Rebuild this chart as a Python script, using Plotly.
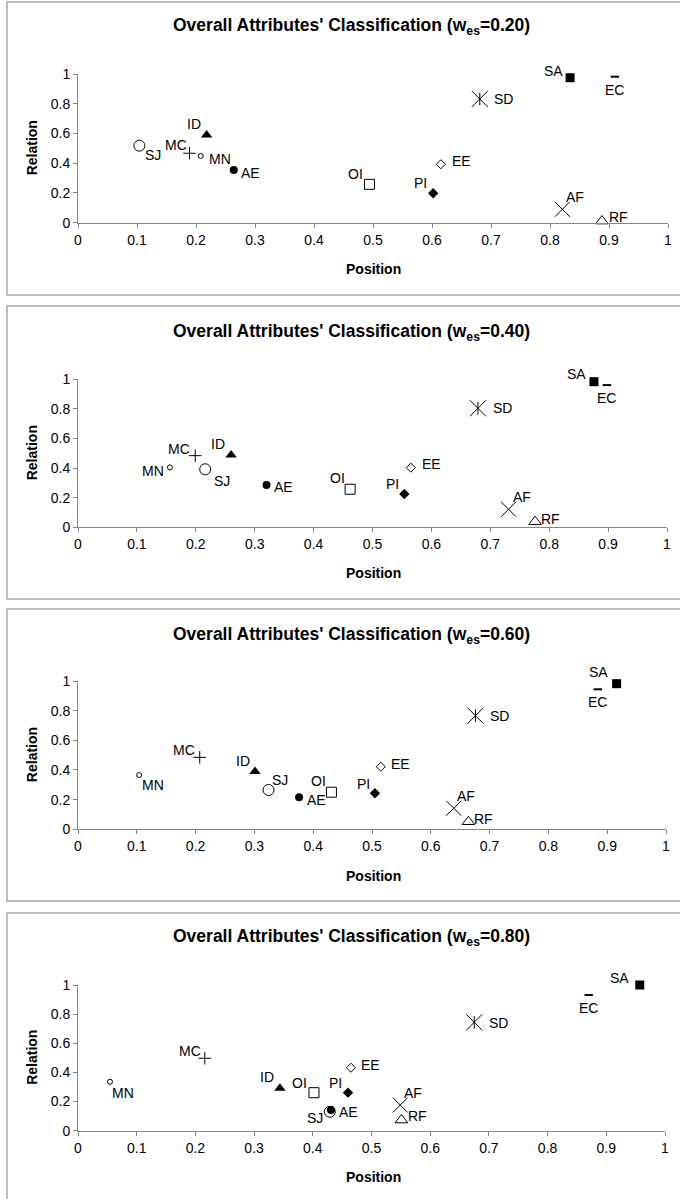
import plotly.graph_objects as go

# ---------------- data ----------------
attributes = ["SA", "EC", "SD", "ID", "MC", "SJ", "MN", "AE", "OI", "PI", "EE", "AF", "RF"]
weights = ["0.20", "0.40", "0.60", "0.80"]

position_020 = [0.834, 0.910, 0.681, 0.218, 0.189, 0.104, 0.208, 0.264, 0.494, 0.602, 0.615, 0.821, 0.888]
relation_020 = [0.975, 0.982, 0.832, 0.590, 0.467, 0.518, 0.449, 0.354, 0.258, 0.198, 0.393, 0.090, 0.011]

position_040 = [0.876, 0.898, 0.679, 0.260, 0.199, 0.216, 0.156, 0.320, 0.462, 0.554, 0.565, 0.731, 0.776]
relation_040 = [0.984, 0.961, 0.804, 0.489, 0.484, 0.392, 0.405, 0.286, 0.257, 0.225, 0.403, 0.122, 0.038]

position_060 = [0.916, 0.884, 0.676, 0.301, 0.207, 0.324, 0.104, 0.376, 0.431, 0.505, 0.515, 0.639, 0.664]
relation_060 = [0.982, 0.944, 0.766, 0.389, 0.485, 0.265, 0.366, 0.216, 0.250, 0.243, 0.422, 0.142, 0.051]

position_080 = [0.957, 0.870, 0.675, 0.344, 0.216, 0.429, 0.0545, 0.431, 0.402, 0.460, 0.465, 0.549, 0.551]
relation_080 = [1.000, 0.931, 0.744, 0.291, 0.497, 0.130, 0.336, 0.142, 0.261, 0.261, 0.432, 0.176, 0.073]

x_ticks = [0, 0.1, 0.2, 0.3, 0.4, 0.5, 0.6, 0.7, 0.8, 0.9, 1]
y_ticks = [0, 0.2, 0.4, 0.6, 0.8, 1]

# ---------------- styles ----------------
BLACK = "#000000"
AXIS = "#868686"
FONT = "Liberation Sans, Arial, sans-serif"
W, H = 680, 1199

marker_style = {
    "SA": dict(symbol="square", size=9, color=BLACK),
    "EC": dict(symbol="line-ew-open", size=6, color=BLACK, line=dict(width=2, color=BLACK)),
    "SD": dict(symbol="x-thin-open", size=16, color=BLACK, line=dict(width=1, color=BLACK)),
    "ID": dict(symbol="triangle-up", size=10, color=BLACK),
    "MC": dict(symbol="cross-thin-open", size=9, color=BLACK, line=dict(width=1, color=BLACK)),
    "SJ": dict(symbol="circle-open", size=11, color=BLACK, line=dict(width=1, color=BLACK)),
    "MN": dict(symbol="circle-open", size=5, color=BLACK, line=dict(width=1, color=BLACK)),
    "AE": dict(symbol="circle", size=8, color=BLACK),
    "OI": dict(symbol="square-open", size=10, color=BLACK, line=dict(width=1, color=BLACK)),
    "PI": dict(symbol="diamond", size=8, color=BLACK),
    "EE": dict(symbol="diamond-open", size=7, color=BLACK, line=dict(width=1, color=BLACK)),
    "AF": dict(symbol="x-thin-open", size=15, color=BLACK, line=dict(width=1, color=BLACK)),
    "RF": dict(symbol="triangle-up-open", size=11, color=BLACK, line=dict(width=1, color=BLACK)),
}
sd_vertical = dict(symbol="line-ns-open", size=9, color=BLACK, line=dict(width=1, color=BLACK))

# label centre offsets from the marker, in pixels (dx right, dy down), per panel, order = attributes
label_offsets = [
    [(-17, -7), (0, 13), (24, 0), (-13, -11), (-14, -8), (14, 9), (19, 3), (17, 3),
     (-14, -10), (-13, -10), (21, -3), (13, -12), (17, -4)],
    [(-17, -8), (0, 13), (25, 0), (-13, -11), (-16, -7), (17, 12), (-17, 4), (17, 2),
     (-13, -11), (-12, -10), (21, -4), (13, -12), (15, -3)],
    [(-18, -12), (0, 13), (24, 0), (-12, -11), (-16, -7), (11, -10), (14, 10), (17, 3),
     (-13, -11), (-11, -9), (20, -3), (12, -12), (15, -3)],
    [(-20, -7), (0, 13), (24, 1), (-13, -11), (-15, -7), (-15, 6), (13, 11), (17, 2),
     (-14, -10), (-13, -10), (20, -3), (13, -12), (16, -4)],
]

panels = [
    (position_020, relation_020),
    (position_040, relation_040),
    (position_060, relation_060),
    (position_080, relation_080),
]

# pixel geometry of each panel: (x0 px, x1 px, y(0) px, y(1) px, border top, border bottom, title y, xtitle y)
geom = [
    (78, 668, 222.7, 74.0, 2, 295, 27, 269),
    (78, 667, 527.3, 379.3, 306, 599, 332, 573),
    (78, 666, 829.3, 681.0, 609, 901, 635, 876),
    (78, 665, 1130.7, 985.0, 913, 1206, 937, 1177),
]


def py(p):
    return 1 - p / H


def px(p):
    return p / W


fig = go.Figure()
layout = dict(
    autosize=True, margin=dict(l=0, r=0, t=0, b=0, autoexpand=False),
    paper_bgcolor="white", plot_bgcolor="white", showlegend=False,
    font=dict(family=FONT, size=14, color=BLACK),
)
shapes, annotations = [], []

for i, ((xs, ys), g) in enumerate(zip(panels, geom)):
    n = "" if i == 0 else str(i + 1)
    xa, ya = "x" + n, "y" + n
    x0, x1, y0p, y1p, bt, bb, ty, xty = g
    common = dict(
        range=[0, 1], showgrid=False, zeroline=False, showline=True, linecolor=AXIS, linewidth=1,
        ticks="outside", ticklen=4, tickcolor=AXIS, tickwidth=1,
        tickfont=dict(family=FONT, size=14, color=BLACK), fixedrange=True,
    )
    layout["xaxis" + n] = dict(common, domain=[px(x0), px(x1)], anchor=ya,
                               tickvals=x_ticks, ticktext=[f"{v:g}" for v in x_ticks])
    layout["yaxis" + n] = dict(common, domain=[py(y0p), py(y1p)], anchor=xa,
                               tickvals=y_ticks, ticktext=[f"{v:g}" for v in y_ticks])

    for j, name in enumerate(attributes):
        fig.add_trace(go.Scatter(
            x=[xs[j]], y=[ys[j]], xaxis=xa, yaxis=ya, mode="markers",
            marker=marker_style[name], cliponaxis=False, name=name,
        ))
        if name == "SD":
            fig.add_trace(go.Scatter(
                x=[xs[j]], y=[ys[j]], xaxis=xa, yaxis=ya, mode="markers",
                marker=sd_vertical, cliponaxis=False, name=name,
            ))
        dx, dy = label_offsets[i][j]
        annotations.append(dict(
            text=name, xref=xa, yref=ya, x=xs[j], y=ys[j], xanchor="center", yanchor="middle",
            xshift=dx, yshift=-dy, showarrow=False, font=dict(family=FONT, size=14, color=BLACK)))

    # panel border
    shapes.append(dict(type="rect", xref="paper", yref="paper",
                       x0=px(7), x1=px(700), y0=py(bb), y1=py(bt),
                       line=dict(color="#a6a6a6", width=1.5), fillcolor="rgba(0,0,0,0)"))
    # title
    annotations.append(dict(
        text=f"<b>Overall Attributes' Classification (w<sub>es</sub>={weights[i]})</b>",
        xref="paper", yref="paper", x=px(351), y=py(ty), xanchor="center", yanchor="middle",
        showarrow=False, font=dict(family=FONT, size=17.5, color=BLACK)))
    # axis titles
    annotations.append(dict(
        text="<b>Position</b>", xref="paper", yref="paper", x=px(373), y=py(xty),
        xanchor="center", yanchor="middle", showarrow=False,
        font=dict(family=FONT, size=14, color=BLACK)))
    annotations.append(dict(
        text="<b>Relation</b>", xref="paper", yref="paper", x=px(32), y=py((y0p + y1p) / 2),
        xanchor="center", yanchor="middle", showarrow=False, textangle=-90,
        font=dict(family=FONT, size=14, color=BLACK)))

layout["shapes"] = shapes
layout["annotations"] = annotations
fig.update_layout(**layout)
fig.write_html(
    "out.html",
    config=dict(displayModeBar=False, responsive=True),
    default_width="100vw",
    default_height="100vh",
    post_script="document.body.style.margin='0px';document.body.style.overflow='hidden';",
)
